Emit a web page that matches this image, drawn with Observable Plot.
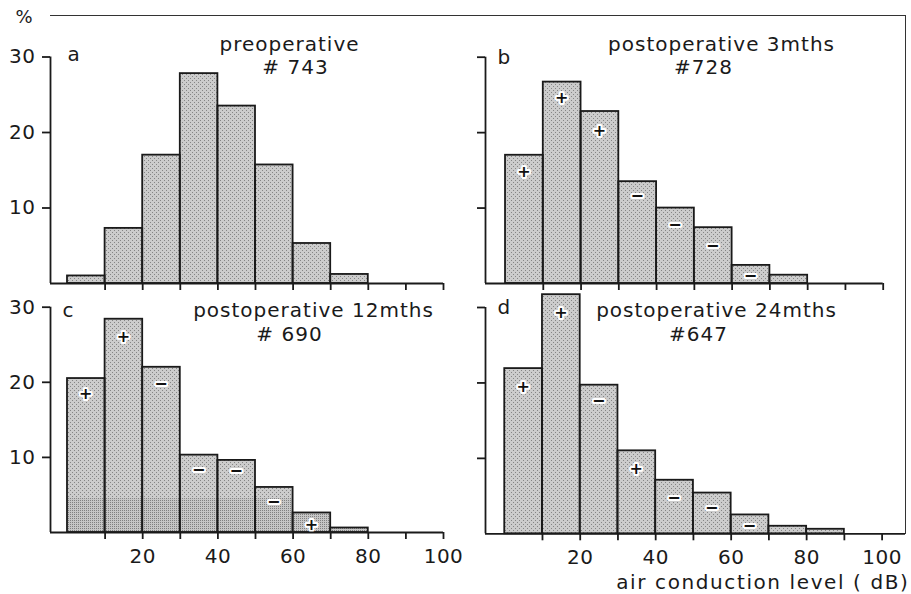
<!DOCTYPE html>
<html><head><meta charset="utf-8">
<script src="https://cdn.jsdelivr.net/npm/d3@7"></script>
<script src="https://cdn.jsdelivr.net/npm/@observablehq/plot@0.6"></script>
<style>
body{margin:0;background:#fff;}
#wrap{position:relative;width:911px;height:594px;overflow:hidden;font-family:"DejaVu Sans";color:#1a1a1a;background:#fff;}
#wrap svg.pnl{position:absolute;overflow:visible;}
#wrap text{letter-spacing:1px;}
#wrap svg [aria-label*="axis"] text{letter-spacing:0.5px;}
#wrap svg [aria-label*="axis"] path,#wrap svg [aria-label*="axis"] line{stroke-width:1.8px;}
#frame{position:absolute;left:50px;top:15px;width:855px;height:518px;border-top:1.5px solid #333;border-right:1.5px solid #333;}
</style></head><body>
<svg width="0" height="0" style="position:absolute"><defs>
<pattern id="stip" width="4" height="4" patternUnits="userSpaceOnUse">
<rect width="4" height="4" fill="#cccccc"/><rect x="0" y="0" width="1" height="1" fill="#858585"/><rect x="2" y="2" width="1" height="1" fill="#858585"/>
</pattern>
<pattern id="stipDark" width="2" height="2" patternUnits="userSpaceOnUse">
<rect width="2" height="2" fill="#c6c6c6"/><rect x="0" y="0" width="1" height="1" fill="#808080"/>
</pattern>
</defs></svg>
<div id="wrap"><div id="frame"></div></div>
<script>
// ---- data ----
const binLow = [0, 10, 20, 30, 40, 50, 60, 70, 80];
const pctPre = [1.0, 7.3, 17.0, 27.8, 23.5, 15.7, 5.3, 1.2, 0];
const pct3m  = [17.0, 26.7, 22.8, 13.5, 10.0, 7.4, 2.4, 1.1, 0];
const pct12m = [20.5, 28.4, 22.0, 10.3, 9.6, 6.0, 2.6, 0.6, 0];
const pct24m = [21.9, 31.7, 19.7, 11.0, 7.1, 5.4, 2.5, 1.0, 0.6];
const sign3m   = ["+", "+", "+", "−", "−", "−", "−"];
const signAt3m = [14.8, 24.6, 20.2, 11.6, 7.8, 5.0, 1.0];
const sign12m   = ["+", "+", "−", "−", "−", "−", "+"];
const signAt12m = [18.5, 26.0, 19.8, 8.3, 8.2, 4.1, 1.0];
const sign24m   = ["+", "+", "−", "+", "−", "−", "−"];
const signAt24m = [19.5, 29.3, 17.6, 8.6, 4.8, 3.4, 1.1];
const band12m = 4.5;
const panelLetters = ["a", "b", "c", "d"];
const titles = ["preoperative", "postoperative 3mths", "postoperative 12mths", "postoperative 24mths"];
const counts = ["# 743", "#728", "# 690", "#647"];
const yTicks = [10, 20, 30];
const xTicks = [10, 20, 30, 40, 50, 60, 70, 80, 90, 100];
const xLabelTicks = [20, 40, 60, 80, 100];
const xTitle = "air conduction level ( dB)";
const yUnit = "%";

// ---- layout (page pixels) ----
const layout = [
  {sl:0,   st:0,   w:460, h:300, L:50,  R:443,   T:56.5,  B:283,   xmin:-4.52, xmax:100,   t1:[289,44],  t2:[295,67],  let:[67,54],  bottom:false},
  {sl:455, st:0,   w:456, h:300, L:485, R:882.7, T:56.7,  B:283,   xmin:-5.3,  xmax:100,   t1:[721,44],  t2:[703,67],  let:[497,57], bottom:false},
  {sl:0,   st:288, w:460, h:306, L:50,  R:443,   T:306.7, B:532,   xmin:-4.52, xmax:100,   t1:[313,310], t2:[289,334], let:[62,310], bottom:true},
  {sl:455, st:288, w:456, h:306, L:485, R:905,   T:307,   B:533.3, xmin:-5.1,  xmax:106.2, t1:[716,310], t2:[698,334], let:[497,307], bottom:true}
];
const values = [pctPre, pct3m, pct12m, pct24m];
const signs = [null, [sign3m, signAt3m], [sign12m, signAt12m], [sign24m, signAt24m]];

const wrap = document.getElementById("wrap");

layout.forEach((g, i) => {
  const bars = binLow.map((x, j) => ({x1: x, x2: x + 10, v: values[i][j]})).filter(d => d.v > 0);
  const lbl = (txt, pos, opts = {}) => Plot.text([txt], {
    frameAnchor: "top-left", text: d => d, dx: pos[0] - g.L, dy: pos[1] - g.T,
    textAnchor: "middle", lineAnchor: "middle", fontSize: 20, fill: "#1a1a1a", ...opts
  });
  const marks = [
    Plot.rectY(bars, {x1: "x1", x2: "x2", y: "v", fill: "url(#stip)"}),
  ];
  if (i === 2) {
    marks.push(Plot.rectY(bars, {x1: "x1", x2: "x2", y: d => Math.min(d.v, band12m), fill: "url(#stipDark)"}));
  }
  marks.push(Plot.rectY(bars, {x1: "x1", x2: "x2", y: "v", fill: "none", stroke: "#1a1a1a", strokeWidth: 1.8}));
  if (signs[i]) {
    const sd = signs[i][0].map((s, j) => ({s, x: binLow[j] + 5, y: signs[i][1][j]}));
    marks.push(Plot.text(sd, {x: "x", y: "y", text: "s", fontSize: 16, fontWeight: "bold",
      fill: "#111", stroke: "white", strokeWidth: 4, lineAnchor: "middle"}));
  }
  marks.push(Plot.ruleX([g.xmin], {stroke: "#1a1a1a", strokeWidth: 1.8}));
  marks.push(Plot.ruleY([0], {stroke: "#1a1a1a", strokeWidth: 1.8}));
  marks.push(lbl(titles[i], g.t1));
  marks.push(lbl(counts[i], g.t2));
  marks.push(lbl(panelLetters[i], g.let, {textAnchor: "start"}));
  if (i === 0) marks.push(lbl(yUnit, [24, 17], {fontSize: 18}));
  if (i === 3) marks.push(lbl(xTitle, [909, 582], {textAnchor: "end"}));

  const svg = Plot.plot({
    width: g.w, height: g.h,
    marginLeft: g.L - g.sl, marginRight: g.sl + g.w - g.R,
    marginTop: g.T - g.st, marginBottom: g.st + g.h - g.B,
    style: {background: "transparent", fontSize: "20px", fontFamily: "DejaVu Sans", color: "#1a1a1a", overflow: "visible"},
    x: {domain: [g.xmin, g.xmax], ticks: xTicks, tickSize: 7, tickPadding: 9, label: null,
        tickFormat: g.bottom ? (d => xLabelTicks.includes(d) ? String(d) : "") : (() => "")},
    y: {domain: [0, 30], ticks: yTicks, tickSize: 8, tickPadding: 7, label: null,
        tickFormat: (i % 2 === 0) ? (d => String(d)) : (() => "")},
    marks
  });
  svg.classList.add("pnl");
  svg.style.left = g.sl + "px";
  svg.style.top = g.st + "px";
  wrap.appendChild(svg);
});
// wider spacing for axis title
d3.selectAll("#wrap text").filter(function(){return this.textContent === xTitle;}).style("letter-spacing", "1.6px");
</script>
</body></html>
